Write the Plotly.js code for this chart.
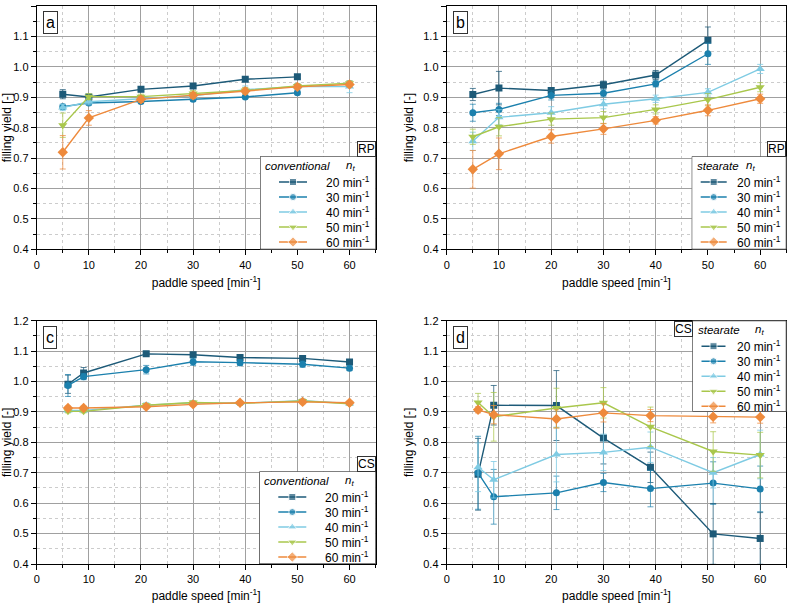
<!DOCTYPE html>
<html>
<head>
<meta charset="utf-8">
<script src="https://cdn.plot.ly/plotly-3.0.1.min.js"></script>
<style>
  html, body { margin: 0; padding: 0; background: #fff; }
  #chart { width: 788px; height: 603px; }
</style>
</head>
<body>
<div id="chart"></div>
<script>
// Paddle speeds at which the filling yield was measured
const speedRP = [5, 10, 20, 30, 40, 50, 60];
const speedCS = [6, 9, 21, 30, 39, 51, 60];

// Feed frame rotor speeds n_t (legend entries)
const rotorLabels = ['20 min<sup>-1</sup>', '30 min<sup>-1</sup>', '40 min<sup>-1</sup>', '50 min<sup>-1</sup>', '60 min<sup>-1</sup>'];

// (a) RP, conventional
const aYield20 = [0.910, 0.901, 0.926, 0.937, 0.959, 0.967, null];
const aYield30 = [0.869, 0.881, 0.886, 0.893, 0.901, 0.915, null];
const aYield40 = [0.866, 0.885, 0.895, 0.905, 0.925, 0.935, 0.935];
const aYield50 = [0.808, 0.902, 0.902, 0.912, 0.922, 0.937, 0.946];
const aYield60 = [0.719, 0.832, 0.893, 0.906, 0.920, 0.934, 0.942];
const aErr20 = [0.015, 0.005, 0.008, 0.007, 0.006, 0.006, null];
const aErr30 = [0.008, 0.006, 0.006, 0.006, 0.005, 0.006, null];
const aErr40 = [0.010, 0.010, 0.008, 0.010, 0.012, 0.010, 0.020];
const aErr50 = [0.040, 0.010, 0.008, 0.010, 0.010, 0.008, 0.008];
const aErr60 = [0.055, 0.024, 0.010, 0.010, 0.010, 0.008, 0.008];

// (b) RP, stearate
const bYield20 = [0.909, 0.930, 0.922, 0.941, 0.973, 1.087, null];
const bYield30 = [0.849, 0.860, 0.906, 0.913, 0.944, 1.043, null];
const bYield40 = [0.755, 0.834, 0.849, 0.877, 0.895, 0.916, 0.993];
const bYield50 = [0.770, 0.803, 0.828, 0.833, 0.860, 0.892, 0.933];
const bYield60 = [0.663, 0.714, 0.771, 0.796, 0.824, 0.857, 0.895];
const bErr20 = [0.020, 0.055, 0.010, 0.012, 0.015, 0.044, null];
const bErr30 = [0.028, 0.020, 0.015, 0.012, 0.010, 0.035, null];
const bErr40 = [0.030, 0.025, 0.020, 0.015, 0.012, 0.012, 0.015];
const bErr50 = [0.025, 0.030, 0.020, 0.020, 0.015, 0.020, 0.015];
const bErr60 = [0.062, 0.052, 0.022, 0.018, 0.012, 0.018, 0.015];

// (c) CS, conventional
const cYield20 = [0.991, 1.028, 1.091, 1.088, 1.079, 1.076, 1.064];
const cYield30 = [0.987, 1.016, 1.039, 1.065, 1.062, 1.057, 1.044];
const cYield40 = [0.905, 0.905, 0.922, 0.930, 0.929, 0.937, 0.928];
const cYield50 = [0.902, 0.902, 0.922, 0.931, 0.928, 0.936, 0.927];
const cYield60 = [0.913, 0.913, 0.917, 0.925, 0.930, 0.933, 0.930];
const cErr20 = [0.030, 0.018, 0.005, 0.006, 0.008, 0.007, 0.008];
const cErr30 = [0.036, 0.010, 0.014, 0.012, 0.010, 0.010, 0.008];
const cErr40 = [0.006, 0.006, 0.008, 0.006, 0.006, 0.006, 0.006];
const cErr50 = [0.005, 0.005, 0.006, 0.005, 0.006, 0.006, 0.006];
const cErr60 = [0.006, 0.006, 0.006, 0.006, 0.006, 0.006, 0.006];

// (d) CS, stearate
const dYield20 = [0.695, 0.922, 0.921, 0.814, 0.718, 0.499, 0.484];
const dYield30 = [0.700, 0.621, 0.634, 0.668, 0.648, 0.666, 0.647];
const dYield40 = [0.718, 0.677, 0.760, 0.767, 0.784, 0.700, 0.760];
const dYield50 = [0.931, 0.884, 0.913, 0.930, 0.851, 0.770, 0.758];
const dYield60 = [0.907, 0.891, 0.877, 0.897, 0.888, 0.884, 0.883];
const dErr20 = [0.118, 0.065, 0.115, 0.085, 0.050, 0.100, 0.085];
const dErr30 = [0.120, 0.090, 0.055, 0.030, 0.060, 0.070, 0.075];
const dErr40 = [0.080, 0.060, 0.090, 0.060, 0.050, 0.050, 0.080];
const dErr50 = [0.030, 0.080, 0.065, 0.050, 0.065, 0.065, 0.075];
const dErr60 = [0.010, 0.030, 0.030, 0.030, 0.020, 0.020, 0.020];

const colors = ['#1d5a78', '#1b80ad', '#7fcbe3', '#a9c74c', '#ee8a3c'];
const errColors = ['rgba(29,90,120,0.75)', 'rgba(27,128,173,0.7)', 'rgba(127,203,227,0.8)', 'rgba(169,199,76,0.75)', 'rgba(238,138,60,0.75)'];
const symbols = ['square', 'circle', 'triangle-up', 'triangle-down', 'diamond'];
const markerSizes = [7, 7, 8, 8, 8];

const W = 788, H = 603;
const px = v => v / W;
const py = v => 1 - v / H;
const fontFamily = 'Liberation Sans, Arial, sans-serif';

// Each panel: data, its axes, and the pixel box of its key
const panels = [
  { x: speedRP, ys: [aYield20, aYield30, aYield40, aYield50, aYield60], es: [aErr20, aErr30, aErr40, aErr50, aErr60],
    header: 'conventional', key: { l: 260, t: 156.5, r: 375.6, b: 249.3, line: [19, 47], textR: 112, ntX: 84 } },
  { x: speedRP, ys: [bYield20, bYield30, bYield40, bYield50, bYield60], es: [bErr20, bErr30, bErr40, bErr50, bErr60],
    header: 'stearate', key: { l: 691.7, t: 156.5, r: 786.3, b: 249.3, line: [9, 35], textR: 91, ntX: 52 } },
  { x: speedCS, ys: [cYield20, cYield30, cYield40, cYield50, cYield60], es: [cErr20, cErr30, cErr40, cErr50, cErr60],
    header: 'conventional', key: { l: 259.3, t: 471.5, r: 375.6, b: 564, line: [19, 47], textR: 112, ntX: 84 } },
  { x: speedCS, ys: [dYield20, dYield30, dYield40, dYield50, dYield60], es: [dErr20, dErr30, dErr40, dErr50, dErr60],
    header: 'stearate', key: { l: 692.5, t: 320.7, r: 786.3, b: 411.7, line: [9, 33], textR: 90, ntX: 60 } }
];

const traces = [];
const shapes = [];
const annotations = [];

panels.forEach((p, k) => {
  const sfx = k === 0 ? '' : String(k + 1);
  p.ys.forEach((y, i) => {
    traces.push({
      type: 'scatter', mode: 'lines+markers',
      x: p.x, y: y, name: rotorLabels[i],
      xaxis: 'x' + sfx, yaxis: 'y' + sfx,
      showlegend: false, connectgaps: false,
      line: { color: colors[i], width: 1.4 },
      marker: { symbol: symbols[i], size: markerSizes[i], color: colors[i] },
      error_y: { type: 'data', array: p.es[i], visible: true, color: errColors[i], thickness: 1, width: 3 }
    });
  });

  // Key drawn in its own small subplot laid over the panel (pixel-like units)
  const kx = 'x' + (k + 5), ky = 'y' + (k + 5);
  const w = p.key.r - p.key.l, h = p.key.b - p.key.t;
  p.keyW = w; p.keyH = h;
  shapes.push({ type: 'rect', xref: kx, yref: ky, x0: 0, x1: w, y0: 0, y1: h,
    fillcolor: '#fff', line: { color: '#000', width: 1 }, layer: 'below' });
  annotations.push({ xref: kx, yref: ky, x: 3, y: 9, xanchor: 'left', yanchor: 'middle', showarrow: false,
    text: '<i>' + p.header + '</i>', font: { family: fontFamily, size: 11.5, color: '#000' } });
  annotations.push({ xref: kx, yref: ky, x: p.key.ntX, y: 9, xanchor: 'left', yanchor: 'middle', showarrow: false,
    text: '<i>n<sub>t</sub></i>', font: { family: fontFamily, size: 11.5, color: '#000' } });
  rotorLabels.forEach((lab, i) => {
    const row = 25.5 + 15 * i;
    const [x0, x1] = p.key.line;
    traces.push({
      type: 'scatter', mode: 'lines+markers',
      x: [x0, (x0 + x1) / 2, x1], y: [row, row, row],
      xaxis: kx, yaxis: ky, showlegend: false, hoverinfo: 'skip',
      line: { color: colors[i], width: 1.4 },
      marker: { symbol: symbols[i], size: [0, markerSizes[i], 0], color: colors[i] }
    });
    annotations.push({ xref: kx, yref: ky, x: p.key.textR, y: row, xanchor: 'right', yanchor: 'middle', showarrow: false,
      text: lab, font: { family: fontFamily, size: 12, color: '#000' } });
  });
});

function xAxis(domain, anchor) {
  return {
    domain: domain, anchor: anchor, range: [0, 65], dtick: 10, tick0: 0,
    ticks: 'outside', ticklen: 5, tickwidth: 1, tickcolor: '#000',
    showline: true, linecolor: '#000', linewidth: 1, mirror: true,
    showgrid: true, gridcolor: '#a0a0a0', gridwidth: 1, zeroline: false,
    tickfont: { size: 11, color: '#000' },
    minor: { dtick: 5, ticks: 'outside', ticklen: 3, tickcolor: '#000', showgrid: true, gridcolor: '#cccccc', griddash: 'dot', gridwidth: 1 },
    title: { text: 'paddle speed [min<sup>-1</sup>]', font: { size: 12, color: '#000' }, standoff: 9 },
    automargin: false
  };
}
function yAxis(domain, anchor) {
  return {
    domain: domain, anchor: anchor, range: [0.4, 1.2], dtick: 0.1, tick0: 0.4, tickformat: '.1f',
    ticks: 'outside', ticklen: 5, tickwidth: 1, tickcolor: '#000',
    showline: true, linecolor: '#000', linewidth: 1, mirror: true,
    showgrid: true, gridcolor: '#a0a0a0', gridwidth: 1, zeroline: false,
    tickfont: { size: 11, color: '#000' },
    minor: { dtick: 0.05, ticks: 'outside', ticklen: 3, tickcolor: '#000', showgrid: true, gridcolor: '#cccccc', griddash: 'dot', gridwidth: 1 },
    title: { text: 'filling yield [-]', font: { size: 12, color: '#000' }, standoff: 6 },
    automargin: false
  };
}
function keyAxes(p, k) {
  const n = k + 5;
  return {
    ['xaxis' + n]: { domain: [px(p.key.l), px(p.key.r)], range: [0, p.keyW], anchor: 'y' + n, visible: false, fixedrange: true },
    ['yaxis' + n]: { domain: [py(p.key.b), py(p.key.t)], range: [p.keyH, 0], anchor: 'x' + n, visible: false, fixedrange: true }
  };
}

const colL = [px(36.7), px(375.6)];
const colR = [px(446.7), px(786.3)];
const rowT = [py(249.3), py(6)];
const rowB = [py(564), py(320.7)];

const boxed = (text, x, y, xanchor, yanchor, size, pad) => ({
  text: text, xref: 'paper', yref: 'paper', x: x, y: y, xanchor: xanchor, yanchor: yanchor,
  showarrow: false, bgcolor: '#fff', bordercolor: '#333', borderwidth: 1, borderpad: pad,
  font: { family: fontFamily, size: size, color: '#000' }
});

annotations.push(
  boxed('a', px(43), py(11), 'left', 'top', 16, 2),
  boxed('b', px(453), py(11), 'left', 'top', 16, 2),
  boxed('c', px(43), py(326), 'left', 'top', 16, 2),
  boxed('d', px(453), py(326), 'left', 'top', 16, 2),
  boxed('RP', px(375.6), py(156.5), 'right', 'bottom', 12, 0),
  boxed('RP', px(786.3), py(156.5), 'right', 'bottom', 12, 0),
  boxed('CS', px(375.6), py(471.5), 'right', 'bottom', 12, 0),
  boxed('CS', px(692.5), py(320.7), 'right', 'top', 12, 0)
);

const layout = Object.assign({
  width: W, height: H,
  margin: { l: 0, r: 0, t: 0, b: 0 },
  paper_bgcolor: '#fff', plot_bgcolor: '#fff',
  font: { family: fontFamily, color: '#000' },
  showlegend: false,
  xaxis: xAxis(colL, 'y'), yaxis: yAxis(rowT, 'x'),
  xaxis2: xAxis(colR, 'y2'), yaxis2: yAxis(rowT, 'x2'),
  xaxis3: xAxis(colL, 'y3'), yaxis3: yAxis(rowB, 'x3'),
  xaxis4: xAxis(colR, 'y4'), yaxis4: yAxis(rowB, 'x4'),
  shapes: shapes,
  annotations: annotations
}, ...panels.map((p, k) => keyAxes(p, k)));

Plotly.newPlot('chart', traces, layout, { displayModeBar: false, staticPlot: true });
</script>
</body>
</html>
